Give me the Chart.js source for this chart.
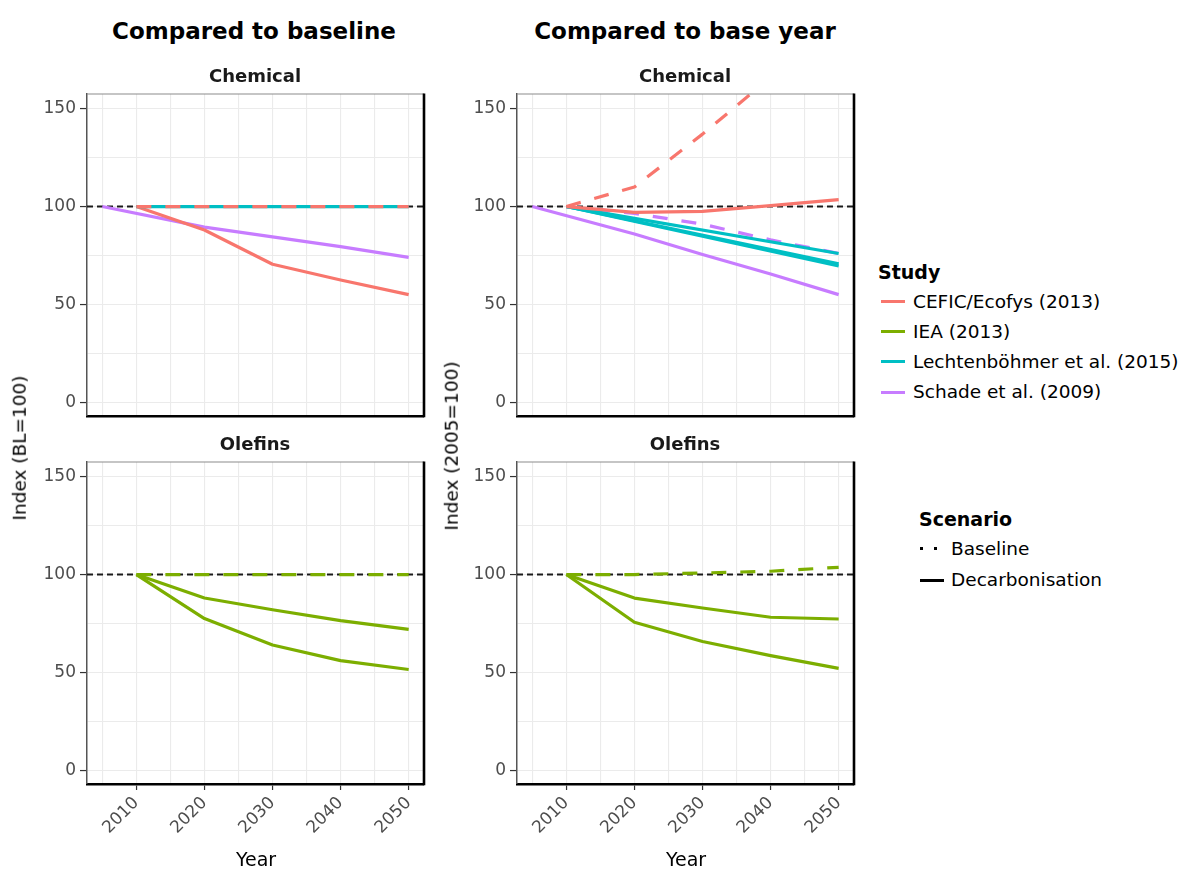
<!DOCTYPE html>
<html>
<head>
<meta charset="utf-8">
<script src="https://cdn.jsdelivr.net/npm/chart.js@4.4.1/dist/chart.umd.min.js"></script>
<style>
  html, body { margin: 0; padding: 0; background: #fff; }
  body { width: 1189px; height: 869px; position: relative; overflow: hidden;
         font-family: "DejaVu Sans", sans-serif; color: #000; }
  canvas { position: absolute; }
  .lbl { position: absolute; white-space: nowrap; line-height: 1; transform: translate(-50%, -50%); }
  .title { font-weight: bold; font-size: 23px; }
  .strip { font-weight: bold; font-size: 18px; color: #1a1a1a; }
  .axt { font-size: 19px; }
  .yaxt { font-size: 18.5px; transform: translate(-50%, -50%) rotate(-90deg); }
  .leg { position: absolute; white-space: nowrap; line-height: 1; font-size: 18.5px; transform: translateY(-50%); }
  .legtitle { position: absolute; white-space: nowrap; line-height: 1; font-size: 19px; font-weight: bold; transform: translateY(-50%); }
  .sw { position: absolute; height: 3px; }
  .dot { position: absolute; width: 3px; height: 3px; background: #000; }
</style>
</head>
<body>

<canvas id="chemBaseline"></canvas>
<canvas id="chemBaseYear"></canvas>
<canvas id="oleBaseline"></canvas>
<canvas id="oleBaseYear"></canvas>

<div class="lbl title" style="left:254px; top:31px;">Compared to baseline</div>
<div class="lbl title" style="left:685px; top:31px;">Compared to base year</div>
<div class="lbl strip" style="left:255px; top:76px;">Chemical</div>
<div class="lbl strip" style="left:685px; top:76px;">Chemical</div>
<div class="lbl strip" style="left:255px; top:444px;">Olefins</div>
<div class="lbl strip" style="left:685px; top:444px;">Olefins</div>
<div class="lbl yaxt" style="left:20px; top:448px;">Index (BL=100)</div>
<div class="lbl yaxt" style="left:452px; top:446px;">Index (2005=100)</div>
<div class="lbl axt" style="left:256px; top:859px;">Year</div>
<div class="lbl axt" style="left:686px; top:859px;">Year</div>

<div id="legend"></div>

<script>
// ---- Studies and scenarios ----
const studyNames = ['CEFIC/Ecofys (2013)', 'IEA (2013)', 'Lechtenböhmer et al. (2015)', 'Schade et al. (2009)'];
const studyColours = ['#F8766D', '#7CAE00', '#00BFC4', '#C77CFF'];
const scenarioNames = ['Baseline', 'Decarbonisation'];

// ---- Axis ticks ----
const yTickLabels = [0, 50, 100, 150];
const xTickLabels = [2010, 2020, 2030, 2040, 2050];
const referenceLevel = 100;

// ---- Year sets ----
const decadeYears = [2010, 2020, 2030, 2040, 2050];
const schadeYears = [2005, 2020, 2030, 2040, 2050];
const lechtYears = [2010, 2050];

// ---- Chemical, index relative to baseline (BL=100) ----
const chemBlCeficBaseline = [100, 100, 100, 100, 100];
const chemBlCeficDecarb   = [100, 88, 70.5, 62.5, 55];
const chemBlLechtDecarb   = [100, 100];
const chemBlSchadeDecarb  = [100, 89.5, 84.5, 79.5, 74];

// ---- Chemical, index relative to 2005 ----
const chemByCeficBaseline  = [100, 110, 137, 166, 190];
const chemByCeficDecarb    = [100, 97, 97.5, 100.5, 103.5];
const chemByLechtDecarbA   = [100, 76];
const chemByLechtDecarbB   = [100, 70.8];
const chemByLechtDecarbC   = [100, 69.6];
const chemBySchadeBaseline = [100, 96.5, 91, 83, 76];
const chemBySchadeDecarb   = [100, 86, 75.5, 65.5, 55];

// ---- Olefins, index relative to baseline (BL=100) ----
const oleBlIeaBaseline = [100, 100, 100, 100, 100];
const oleBlIeaDecarbA  = [100, 88, 82, 76.5, 72];
const oleBlIeaDecarbB  = [100, 77.5, 64, 56, 51.5];

// ---- Olefins, index relative to 2005 ----
const oleByIeaBaseline = [100, 100, 100.8, 101.7, 103.7];
const oleByIeaDecarbA  = [100, 88, 82.9, 78.2, 77.3];
const oleByIeaDecarbB  = [100, 75.6, 65.8, 58.6, 52.1];

// ---- Shared axis ranges ----
const xMin = 2002.75, xMax = 2052.25;
const yMin = -7, yMax = 157.5;

Chart.defaults.font.family = "'DejaVu Sans', sans-serif";

const pts = (years, vals) => years.map((x, i) => ({ x: x, y: vals[i] }));

const DASH = [15, 14];
function line(studyIdx, scenarioIdx, years, vals, order) {
  return {
    label: studyNames[studyIdx] + ' – ' + scenarioNames[scenarioIdx],
    data: pts(years, vals),
    borderColor: studyColours[studyIdx],
    borderWidth: 3.2,
    borderDash: scenarioIdx === 0 ? DASH : [],
    borderCapStyle: 'butt',
    borderJoinStyle: 'round',
    pointRadius: 0,
    tension: 0,
    fill: false,
    order: order || 0
  };
}
function referenceLine() {
  return {
    label: 'reference',
    data: [{ x: xMin, y: referenceLevel }, { x: xMax, y: referenceLevel }],
    borderColor: '#1a1a1a',
    borderWidth: 2,
    borderDash: [6, 4],
    pointRadius: 0,
    fill: false,
    order: 50
  };
}

// Frame on the top and right of each panel
const panelFrame = {
  id: 'panelFrame',
  afterDraw(chart) {
    const { ctx, chartArea: a } = chart;
    ctx.save();
    ctx.strokeStyle = '#8c8c8c';
    ctx.lineWidth = 1.2;
    ctx.beginPath();
    ctx.moveTo(a.left, a.top);
    ctx.lineTo(a.right, a.top);
    ctx.stroke();
    ctx.strokeStyle = '#000';
    ctx.lineWidth = 2.6;
    ctx.beginPath();
    ctx.moveTo(a.right, a.top - 0.6);
    ctx.lineTo(a.right, a.bottom + 1.3);
    ctx.stroke();
    ctx.restore();
  }
};

// Panel layout: plot area 337 x 322, y-axis strip 87 wide
const AREA_W = 337, AREA_H = 322, Y_AXIS_W = 87, PAD_TOP = 10, PAD_RIGHT = 16;

function makePanel(id, left, top, datasets, showX) {
  const xAxisH = showX ? 70 : 8;
  const w = Y_AXIS_W + AREA_W + PAD_RIGHT;
  const h = PAD_TOP + AREA_H + xAxisH;
  const cv = document.getElementById(id);
  cv.width = w; cv.height = h;
  cv.style.left = left + 'px'; cv.style.top = top + 'px';
  cv.style.width = w + 'px'; cv.style.height = h + 'px';

  const isMajorX = v => xTickLabels.includes(v);
  const isMajorY = v => yTickLabels.includes(v);

  return new Chart(cv, {
    type: 'line',
    data: { datasets: [referenceLine()].concat(datasets) },
    options: {
      responsive: false,
      devicePixelRatio: 1,
      animation: false,
      parsing: false,
      layout: { padding: { top: PAD_TOP, right: PAD_RIGHT, left: 0, bottom: 0 } },
      plugins: { legend: { display: false }, tooltip: { enabled: false } },
      scales: {
        x: {
          type: 'linear',
          min: xMin, max: xMax,
          grid: {
            color: '#ebebeb', lineWidth: 1.1,
            drawTicks: showX, tickLength: 6,
            tickColor: c => (c.tick && isMajorX(c.tick.value)) ? '#333' : 'rgba(0,0,0,0)',
            tickWidth: 1.2
          },
          border: { display: true, color: '#000', width: 2.6 },
          ticks: {
            display: showX,
            stepSize: 5,
            includeBounds: false,
            autoSkip: false,
            minRotation: 45, maxRotation: 45,
            padding: 3,
            color: '#4d4d4d',
            font: { size: 17 },
            callback: v => isMajorX(v) ? String(v) : ''
          },
          afterFit(s) {
            s.height = xAxisH;
            s.paddingLeft = 0; s.paddingRight = 0; s.paddingTop = 0; s.paddingBottom = 0;
          }
        },
        y: {
          type: 'linear',
          min: yMin, max: yMax,
          grid: {
            color: '#ebebeb', lineWidth: 1.1,
            drawTicks: true, tickLength: 7,
            tickColor: c => (c.tick && isMajorY(c.tick.value)) ? '#333' : 'rgba(0,0,0,0)',
            tickWidth: 1.2
          },
          border: { display: true, color: '#555', width: 1.5 },
          ticks: {
            stepSize: 25,
            includeBounds: false,
            autoSkip: false,
            padding: 4,
            color: '#4d4d4d',
            font: { size: 17 },
            callback: v => isMajorY(v) ? String(v) : ''
          },
          afterFit(s) {
            s.width = Y_AXIS_W;
            s.paddingLeft = 0; s.paddingRight = 0; s.paddingTop = 0; s.paddingBottom = 0;
          }
        }
      }
    },
    plugins: [panelFrame]
  });
}

// Chemical, compared to baseline
makePanel('chemBaseline', 0, 84, [
  line(0, 0, decadeYears, chemBlCeficBaseline, 1),
  line(2, 1, lechtYears, chemBlLechtDecarb, 2),
  line(0, 1, decadeYears, chemBlCeficDecarb, 3),
  line(3, 1, schadeYears, chemBlSchadeDecarb, 4)
], false);

// Chemical, compared to base year
makePanel('chemBaseYear', 430, 84, [
  line(0, 0, decadeYears, chemByCeficBaseline, 1),
  line(0, 1, decadeYears, chemByCeficDecarb, 1),
  line(2, 1, lechtYears, chemByLechtDecarbA, 2),
  line(2, 1, lechtYears, chemByLechtDecarbB, 2),
  line(2, 1, lechtYears, chemByLechtDecarbC, 2),
  line(3, 0, decadeYears, chemBySchadeBaseline, 3),
  line(3, 1, schadeYears, chemBySchadeDecarb, 3)
], false);

// Olefins, compared to baseline
makePanel('oleBaseline', 0, 452, [
  line(1, 0, decadeYears, oleBlIeaBaseline, 1),
  line(1, 1, decadeYears, oleBlIeaDecarbA, 2),
  line(1, 1, decadeYears, oleBlIeaDecarbB, 2)
], true);

// Olefins, compared to base year
makePanel('oleBaseYear', 430, 452, [
  line(1, 0, decadeYears, oleByIeaBaseline, 1),
  line(1, 1, decadeYears, oleByIeaDecarbA, 2),
  line(1, 1, decadeYears, oleByIeaDecarbB, 2)
], true);

// ---- Legends ----
(function buildLegend() {
  const host = document.getElementById('legend');
  let html = '<div class="legtitle" style="left:878px; top:272px;">Study</div>';
  studyNames.forEach((name, i) => {
    const cy = 301.5 + i * 30.2;
    html += '<div class="sw" style="left:881px; top:' + (cy - 1.5) + 'px; width:24px; background:' + studyColours[i] + ';"></div>';
    html += '<div class="leg" style="left:913px; top:' + cy + 'px;">' + name + '</div>';
  });
  html += '<div class="legtitle" style="left:919px; top:519px;">Scenario</div>';
  // Baseline key: short dashes
  html += '<div class="dot" style="left:920px; top:547px;"></div>';
  html += '<div class="dot" style="left:934px; top:547px;"></div>';
  html += '<div class="leg" style="left:951px; top:549px;">' + scenarioNames[0] + '</div>';
  // Decarbonisation key: solid
  html += '<div class="sw" style="left:920px; top:578.5px; width:24px; background:#000;"></div>';
  html += '<div class="leg" style="left:951px; top:580px;">' + scenarioNames[1] + '</div>';
  host.innerHTML = html;
})();
</script>
</body>
</html>
